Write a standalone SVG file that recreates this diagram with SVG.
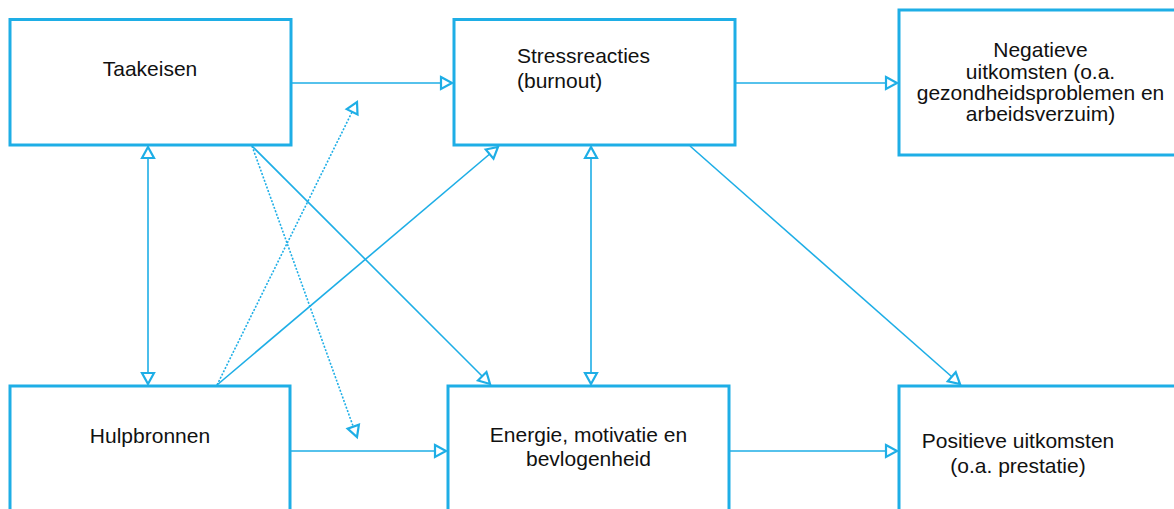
<svg xmlns="http://www.w3.org/2000/svg" width="1174" height="509" viewBox="0 0 1174 509">
<style>
.box{fill:#fff;stroke:#1eaee6;stroke-width:3}
.t{font-family:"Liberation Sans",Arial,sans-serif;font-size:21px;fill:#111}
.c{fill:none;stroke:#1eaee6;stroke-width:1.6}
.d{fill:none;stroke:#1eaee6;stroke-width:1.6;stroke-dasharray:2 1.6}
</style>
<defs>
<marker id="ah" markerUnits="userSpaceOnUse" viewBox="-2 -9 16 18" markerWidth="16" markerHeight="18" refX="11" refY="0" orient="auto-start-reverse">
<path d="M0,-6 L11,0 L0,6 Z" fill="#fff" stroke="#1eaee6" stroke-width="2.2" stroke-linejoin="miter"/>
</marker>
</defs>
<g id="connectors">
<line class="c" x1="291" y1="83" x2="452" y2="83" marker-end="url(#ah)"/>
<line class="c" x1="735" y1="83" x2="897" y2="83" marker-end="url(#ah)"/>
<line class="c" x1="290" y1="451" x2="446" y2="451" marker-end="url(#ah)"/>
<line class="c" x1="729" y1="451" x2="897" y2="451" marker-end="url(#ah)"/>
<line class="c" x1="148" y1="147" x2="148" y2="384" marker-start="url(#ah)" marker-end="url(#ah)"/>
<line class="c" x1="591" y1="147" x2="591" y2="384" marker-start="url(#ah)" marker-end="url(#ah)"/>
<line class="c" x1="252" y1="146" x2="490" y2="384" marker-end="url(#ah)"/>
<line class="c" x1="217" y1="385" x2="498" y2="147" marker-end="url(#ah)"/>
<line class="c" x1="690" y1="146" x2="960" y2="384" marker-end="url(#ah)"/>
<line class="d" x1="217" y1="385" x2="357" y2="102" marker-end="url(#ah)"/>
<line class="d" x1="252" y1="146" x2="357" y2="437" marker-end="url(#ah)"/>
</g>
<g id="taakeisen">
<rect class="box" x="10" y="19.5" width="281" height="125.5"/>
<text class="t" x="150" y="76" text-anchor="middle">Taakeisen</text>
</g>
<g id="stressreacties">
<rect class="box" x="454" y="19.5" width="281" height="125.5"/>
<text class="t" x="517" y="63">Stressreacties</text>
<text class="t" x="517" y="88">(burnout)</text>
</g>
<g id="negatieve">
<rect class="box" x="899" y="10" width="300" height="145"/>
<text class="t" x="1040.5" text-anchor="middle"><tspan x="1040.5" y="57">Negatieve</tspan><tspan x="1040.5" y="78.5">uitkomsten (o.a.</tspan><tspan x="1040.5" y="100">gezondheidsproblemen en</tspan><tspan x="1040.5" y="121">arbeidsverzuim)</tspan></text>
</g>
<g id="hulpbronnen">
<rect class="box" x="10" y="386" width="280" height="140"/>
<text class="t" x="150" y="443" text-anchor="middle">Hulpbronnen</text>
</g>
<g id="energie">
<rect class="box" x="448" y="386" width="281" height="140"/>
<text class="t" x="588.5" y="442" text-anchor="middle">Energie, motivatie en</text>
<text class="t" x="588.5" y="466" text-anchor="middle">bevlogenheid</text>
</g>
<g id="positieve">
<rect class="box" x="899" y="386" width="300" height="140"/>
<text class="t" x="1018" y="448" text-anchor="middle">Positieve uitkomsten</text>
<text class="t" x="1018" y="473" text-anchor="middle">(o.a. prestatie)</text>
</g>
</svg>
